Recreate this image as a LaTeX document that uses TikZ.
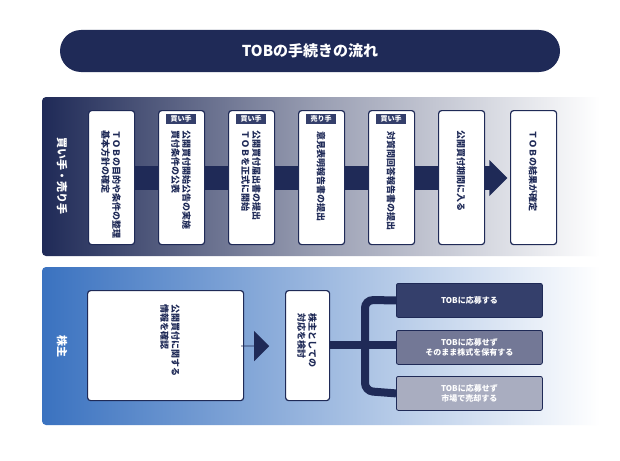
\documentclass[tikz,border=0pt]{standalone}
\usepackage{fontspec}
\setmainfont{Noto Sans CJK JP}
\newfontfamily\vjp[Vertical=RotatedGlyphs]{Noto Sans CJK JP}
\usetikzlibrary{shapes.arrows}
\definecolor{navy}{HTML}{1F2A57}
\definecolor{optA}{HTML}{343F6B}
\definecolor{optB}{HTML}{737896}
\definecolor{optC}{HTML}{A9ADC0}
\definecolor{blueL}{HTML}{3A72C0}
\begin{document}
\begin{tikzpicture}[x=1pt,y=-1pt,
  stepbox/.style={draw=navy,line width=1.2pt,fill=white,rounded corners=3pt,minimum width=46pt,minimum height=134pt,anchor=north west,inner sep=0},
  vtxt/.style={rotate=-90,font=\vjp\fontsize{9}{11}\selectfont\bfseries,text=navy,align=left,inner sep=0},
  tag/.style={fill=optA,text=white,font=\fontsize{7}{8}\selectfont\bfseries,inner sep=1.5pt,minimum width=30pt},
  opt/.style={draw=navy,line width=0.8pt,rounded corners=2pt,minimum width=146pt,minimum height=34pt,text=white,font=\fontsize{8}{10}\selectfont\bfseries,align=center,anchor=north west}]
\useasboundingbox (0,0) rectangle (620,460);
\fill[white] (0,0) rectangle (620,460);
% title
\node[fill=navy,rounded corners=21pt,minimum width=500pt,minimum height=42pt,text=white,font=\fontsize{15}{17}\selectfont\bfseries] (title) at (310,51) {TOBの手続きの流れ};
% top panel
\shade[rounded corners=4pt,left color=navy,right color=white,middle color=navy!45] (42,97) rectangle (600,256);
\node[rotate=-90,font=\vjp\fontsize{11}{13}\selectfont\bfseries,text=white] (seller) at (62,176) {買い手・売り手};
\fill[navy] (100,166) rectangle (492,190);
\node[single arrow,fill=navy,minimum height=18pt,single arrow head extend=6pt,minimum width=36pt,inner sep=0] (arrT) at (498,178) {};
\node[stepbox] (s1) at (88,110) {};
\node[stepbox] (s2) at (158,110) {};
\node[stepbox] (s3) at (228,110) {};
\node[stepbox] (s4) at (298,110) {};
\node[stepbox] (s5) at (368,110) {};
\node[stepbox] (s6) at (438,110) {};
\node[stepbox] (s7) at (510,110) {};
\node[tag] (t2) at (181,119) {買い手};
\node[tag] (t3) at (251,119) {買い手};
\node[tag] (t4) at (321,119) {売り手};
\node[tag] (t5) at (391,119) {買い手};
\node[vtxt,anchor=west] (v1) at (111,130) {ＴＯＢの目的や条件の整理\\基本方針の確定};
\node[vtxt,anchor=west] (v2) at (181,130) {公開買付開始公告の実施\\買付条件の公表};
\node[vtxt,anchor=west] (v3) at (251,130) {公開買付届出書の提出\\ＴＯＢを正式に開始};
\node[vtxt,anchor=west] (v4) at (321,131) {意見表明報告書の提出};
\node[vtxt,anchor=west] (v5) at (391,131) {対質問回答報告書の提出};
\node[vtxt,anchor=west] (v6) at (461,130) {公開買付期間に入る};
\node[vtxt,anchor=west] (v7) at (533,130) {ＴＯＢの結果が確定};
% bottom panel
\shade[rounded corners=4pt,left color=blueL,right color=white] (42,267) rectangle (600,425);
\node[rotate=-90,font=\vjp\fontsize{11}{13}\selectfont\bfseries,text=white] (holder) at (62,346) {株主};
\node[draw=navy,line width=1.2pt,fill=white,rounded corners=3pt,minimum width=156pt,minimum height=110pt,anchor=north west] (b1) at (87,290) {};
\node[vtxt] (bt1) at (170,340) {公開買付に関する\\情報を確認};
\node[single arrow,fill=navy,minimum height=28pt,single arrow head extend=6pt,minimum width=30pt,inner sep=0] (arrB) at (255,346) {};
\node[draw=navy,line width=1.2pt,fill=white,rounded corners=3pt,minimum width=44pt,minimum height=110pt,anchor=north west] (b2) at (285,290) {};
\node[vtxt] (bt2) at (307,340) {株主としての\\対応を検討};
\node[opt,fill=optA] (o1) at (396,283) {TOBに応募する};
\node[opt,fill=optB] (o2) at (396,330) {TOBに応募せず\\そのまま株式を保有する};
\node[opt,fill=optC] (o3) at (396,376) {TOBに応募せず\\市場で売却する};
\draw[navy,line width=8pt] (b2.east |- 0,345) -- (o2.west |- 0,345);
\draw[navy,line width=8pt,rounded corners=8pt] (o1.west) -- (365,300) -- (365,391) -- (o3.west);
\end{tikzpicture}
\end{document}
